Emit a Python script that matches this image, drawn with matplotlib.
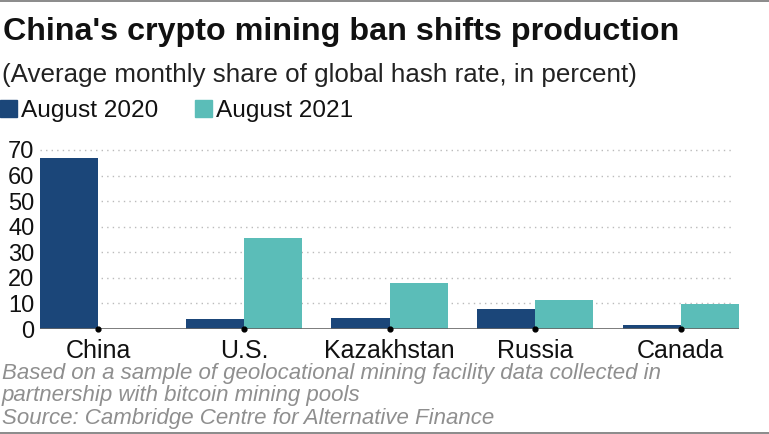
import numpy as np
import matplotlib.pyplot as plt
from matplotlib.lines import Line2D

plt.rcParams['font.family'] = ['Liberation Sans', 'DejaVu Sans']

# data
countries = ['China', 'U.S.', 'Kazakhstan', 'Russia', 'Canada']
aug_2020 = [67.0, 4.1, 4.4, 7.9, 1.7]
aug_2021 = [0.0, 35.4, 18.1, 11.2, 9.6]
series_names = ['August 2020', 'August 2021']
y_ticks = [0, 10, 20, 30, 40, 50, 60, 70]

c2020 = '#1b4679'
c2021 = '#5bbdb8'

fig = plt.figure(figsize=(7.69, 4.34), dpi=100)
W, H = 769, 434

def fx(px):
    return px / W

def fy(py):
    return 1 - py / H

# frame lines top and bottom
fig.add_artist(Line2D([0, 1], [fy(1), fy(1)], color='#777777', lw=1.2))
fig.add_artist(Line2D([0, 1], [fy(432.5), fy(432.5)], color='#777777', lw=1.2))

# title block
fig.text(fx(3), fy(40), "China's crypto mining ban shifts production",
         fontsize=23.2, fontweight='bold', color='#111111', va='baseline')
fig.text(fx(2), fy(82), "(Average monthly share of global hash rate, in percent)",
         fontsize=18.7, color='#222222', va='baseline')

# legend
fig.add_artist(plt.Rectangle((fx(0), fy(117)), fx(17), 17 / H, color=c2020))
fig.text(fx(21), fy(117), series_names[0], fontsize=17.6, color='#111111', va='baseline')
fig.add_artist(plt.Rectangle((fx(195), fy(117)), fx(17), 17 / H, color=c2021))
fig.text(fx(216), fy(117), series_names[1], fontsize=17.6, color='#111111', va='baseline')

# axes: y=0 at 329px, 70 at 150px
ymax = 72
ppu = (329 - 150) / 70
ax = fig.add_axes([fx(40), fy(329), fx(699), ymax * ppu / H])

x = np.arange(len(countries))
bw = 0.4
ax.bar(x - bw / 2, aug_2020, width=bw, color=c2020, zorder=2)
ax.bar(x + bw / 2, aug_2021, width=bw, color=c2021, zorder=2)
ax.scatter(x, np.zeros(len(x)), s=12, color='black', zorder=4, clip_on=False)

ax.set_xlim(-0.4, 4.4)
ax.set_ylim(0, ymax)
ax.set_yticks(y_ticks)
ax.set_yticklabels([str(t) for t in y_ticks], fontsize=17, color='#111111')
ax.set_xticks(x)
ax.set_xticklabels(countries, fontsize=18, color='#111111')
ax.tick_params(axis='both', length=0)
ax.tick_params(axis='y', pad=4)
ax.tick_params(axis='x', pad=7)

for t in y_ticks[1:]:
    ax.plot([-0.4, 4.36], [t, t], color='#bbbbbb', lw=1.0, ls=(0, (1, 3)), zorder=1)
ax.axhline(0, color='#666666', lw=1.2, zorder=3)

for s in ax.spines.values():
    s.set_visible(False)

# footer
foot = '#8f8f8f'
fig.text(fx(2), fy(379), "Based on a sample of geolocational mining facility data collected in",
         fontsize=16, style='italic', color=foot, va='baseline')
fig.text(fx(2), fy(401), "partnership with bitcoin mining pools",
         fontsize=16, style='italic', color=foot, va='baseline')
fig.text(fx(2), fy(424), "Source: Cambridge Centre for Alternative Finance",
         fontsize=16, style='italic', color=foot, va='baseline')

fig.savefig('out.png', dpi=100)
